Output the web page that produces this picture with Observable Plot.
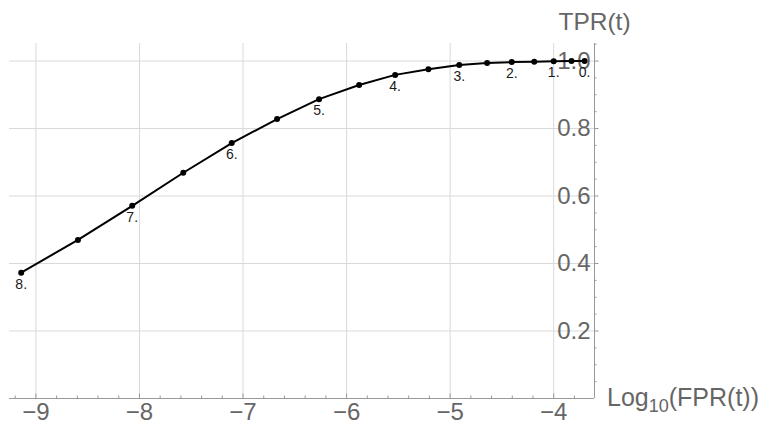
<!DOCTYPE html>
<html>
<head>
<meta charset="utf-8">
<script src="https://cdn.jsdelivr.net/npm/d3@7"></script>
<script src="https://cdn.jsdelivr.net/npm/@observablehq/plot@0.6"></script>
<style>
  body { margin: 0; background: #fff; }
  #chart svg { display: block; }
</style>
</head>
<body>
<div id="chart"></div>
<script>
// Threshold t, log10 of false-positive rate, true-positive rate
const thresholds = [0, 0.5, 1, 1.5, 2, 2.5, 3, 3.5, 4, 4.5, 5, 5.5, 6, 6.5, 7, 7.5, 8];
const logFPR = [-3.702, -3.828, -4.000, -4.188, -4.405, -4.643, -4.912, -5.210, -5.531,
                -5.879, -6.266, -6.671, -7.109, -7.577, -8.070, -8.594, -9.142];
const tpr = [1.000, 0.9998, 0.9994, 0.998, 0.997, 0.994, 0.988, 0.976, 0.959,
             0.929, 0.887, 0.828, 0.757, 0.669, 0.571, 0.470, 0.373];
const pointLabels = ["0.", "", "1.", "", "2.", "", "3.", "", "4.", "", "5.", "", "6.", "", "7.", "", "8."];

const xTicks = [-9, -8, -7, -6, -5, -4];
const xTickLabels = ["\u22129", "\u22128", "\u22127", "\u22126", "\u22125", "\u22124"];
const xMinorTicks = [-9.2, -8.8, -8.6, -8.4, -8.2, -7.8, -7.6, -7.4, -7.2, -6.8, -6.6, -6.4, -6.2,
                     -5.8, -5.6, -5.4, -5.2, -4.8, -4.6, -4.4, -4.2, -3.8];
const yTicks = [0.2, 0.4, 0.6, 0.8, 1.0];
const yTickLabels = ["0.2", "0.4", "0.6", "0.8", "1.0"];
const yMinorTicks = [0.05, 0.1, 0.15, 0.25, 0.3, 0.35, 0.45, 0.5, 0.55, 0.65, 0.7, 0.75, 0.85, 0.9, 0.95, 1.05];

const xDomain = [-9.255, -3.606];
const yDomain = [0, 1.052];
const yAxisTitle = "TPR(t)";
const xAxisTitleParts = ["Log", "10", "(FPR(t))"];

const data = thresholds.map((t, i) => ({t, x: logFPR[i], y: tpr[i], label: pointLabels[i]}));
const xAt = xDomain[1];   // vertical axis sits at the right edge
const FONT = "Liberation Sans, Arial, Helvetica, sans-serif";
const GRID = "#d9d9d9", AXIS = "#999999", TEXT = "#666666";

const plot = Plot.plot({
  width: 765,
  height: 425,
  marginLeft: 9,
  marginRight: 171,
  marginTop: 43,
  marginBottom: 27,
  x: {domain: xDomain, axis: null},
  y: {domain: yDomain, axis: null},
  style: {fontFamily: FONT, background: "#fff", overflow: "visible"},
  marks: [
    // grid
    Plot.ruleX(xTicks, {x: d => d, stroke: GRID, strokeWidth: 1}),
    Plot.ruleY(yTicks, {y: d => d, stroke: GRID, strokeWidth: 1}),
    // axes lines
    Plot.ruleY([0], {y: d => d, stroke: AXIS, strokeWidth: 1}),
    Plot.ruleX([xAt], {x: d => d, stroke: AXIS, strokeWidth: 1}),
    // x ticks (pointing up)
    Plot.ruleX(xTicks, {x: d => d, y1: 0, y2: 0, insetTop: -4.5, stroke: AXIS}),
    Plot.ruleX(xMinorTicks, {x: d => d, y1: 0, y2: 0, insetTop: -2.5, stroke: AXIS}),
    // y ticks (pointing right)
    Plot.ruleY(yTicks, {y: d => d, x1: xAt, x2: xAt, insetRight: -4.5, stroke: AXIS}),
    Plot.ruleY(yMinorTicks, {y: d => d, x1: xAt, x2: xAt, insetRight: -2.5, stroke: AXIS}),
    // tick labels
    Plot.text(xTicks, {x: d => d, y: 0, text: (d, i) => xTickLabels[i], lineAnchor: "top", dy: 4,
      fontSize: 24, fill: TEXT}),
    Plot.text(yTicks, {x: xAt, y: d => d, text: (d, i) => yTickLabels[i], textAnchor: "end", dx: -4,
      fontSize: 24, fill: TEXT}),
    // y axis title
    Plot.text([yAxisTitle], {x: xAt, frameAnchor: "top", text: d => d, lineAnchor: "bottom", dy: -13.5,
      fontSize: 24.5, fill: TEXT}),
    // data
    Plot.line(data, {x: "x", y: "y", stroke: "#000", strokeWidth: 2}),
    Plot.dot(data, {x: "x", y: "y", r: 3, fill: "#000", stroke: "none"}),
    Plot.text(data, {x: "x", y: "y", text: "label", lineAnchor: "top", dy: 6, fontSize: 14, fill: "#1a1a1a"})
  ]
});

// x-axis title with subscript, as real text
const xs = plot.scale("x"), ys = plot.scale("y");
const t = d3.select(plot).append("text")
  .attr("x", xs.apply(xAt) + 13)
  .attr("y", ys.apply(0) + 8)
  .attr("text-anchor", "start")
  .attr("fill", TEXT)
  .attr("font-family", FONT)
  .attr("font-size", 25);
t.append("tspan").text(xAxisTitleParts[0]);
t.append("tspan").attr("font-size", 18).attr("dy", 6).text(xAxisTitleParts[1]);
t.append("tspan").attr("dy", -6).text(xAxisTitleParts[2]);

document.getElementById("chart").appendChild(plot);
</script>
</body>
</html>
